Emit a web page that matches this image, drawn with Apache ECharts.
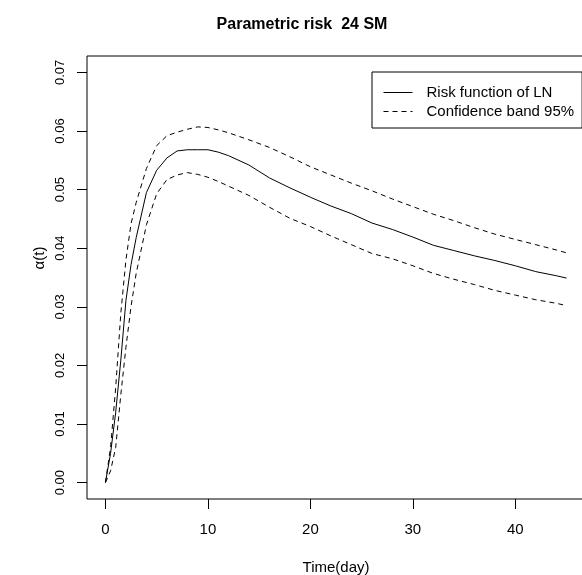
<!DOCTYPE html>
<html>
<head>
<meta charset="utf-8">
<script src="https://cdn.jsdelivr.net/npm/echarts@6/dist/echarts.min.js"></script>
<style>html,body{margin:0;padding:0;background:#fff}#c{width:582px;height:575px}</style>
</head>
<body>
<div id="c"></div>
<script>
var timeDays = [0, 0.5, 1, 1.5, 2, 2.5, 3, 4, 5, 6, 7, 8, 9, 10, 11, 12, 14, 16, 18, 20, 22, 24, 26, 28, 30, 32, 34, 36, 38, 40, 42, 44, 45];
var riskLN = [0, 0.0050, 0.0120, 0.0209, 0.0311, 0.0372, 0.0418, 0.0495, 0.0533, 0.0554, 0.0566, 0.0568, 0.0568, 0.0568, 0.0564, 0.0558, 0.0542, 0.0520, 0.0503, 0.0487, 0.0472, 0.0459, 0.0443, 0.0432, 0.0419, 0.0405, 0.0396, 0.0387, 0.0379, 0.0370, 0.0360, 0.0353, 0.0349];
var bandUpper = [0, 0.0060, 0.0162, 0.0289, 0.0380, 0.0442, 0.0478, 0.0536, 0.0575, 0.0592, 0.0598, 0.0603, 0.0607, 0.0606, 0.0602, 0.0597, 0.0585, 0.0572, 0.0556, 0.0539, 0.0525, 0.0511, 0.0498, 0.0484, 0.0471, 0.0458, 0.0447, 0.0435, 0.0424, 0.0415, 0.0406, 0.0397, 0.0392];
var bandLower = [0, 0.0020, 0.0060, 0.0150, 0.0231, 0.0301, 0.0357, 0.0440, 0.0493, 0.0517, 0.0525, 0.0529, 0.0526, 0.0521, 0.0514, 0.0506, 0.0490, 0.0470, 0.0451, 0.0437, 0.0421, 0.0406, 0.0391, 0.0382, 0.0370, 0.0357, 0.0347, 0.0338, 0.0328, 0.0320, 0.0312, 0.0306, 0.0302];
var xTicks = [0, 10, 20, 30, 40];
var yTicks = [0, 0.01, 0.02, 0.03, 0.04, 0.05, 0.06, 0.07];

function pairs(xs, ys) { return xs.map(function (x, i) { return [x, ys[i]]; }); }

var FONT = "'Liberation Sans', Arial, sans-serif";
var chart = echarts.init(document.getElementById('c'), null, { renderer: 'canvas' });
var dash = [5, 4];
chart.setOption({
  animation: false,
  backgroundColor: '#fff',
  title: {
    text: 'Parametric risk  24 SM',
    left: 297, top: 12, textAlign: 'center',
    textStyle: { fontFamily: FONT, fontSize: 16, fontWeight: 'bold', color: '#000' }
  },
  legend: {
    orient: 'vertical',
    left: 372, top: 72,
    padding: [13, 8, 9, 11],
    itemGap: 4,
    itemWidth: 29, itemHeight: 11,
    borderColor: '#000', borderWidth: 1,
    backgroundColor: '#fff',
    lineStyle: { width: 1 },
    itemStyle: { color: 'transparent', borderColor: 'transparent', borderWidth: 0 },
    textStyle: { fontFamily: FONT, fontSize: 15, color: '#000', padding: [0, 0, 0, 9] },
    data: ['Risk function of LN', 'Confidence band 95%']
  },
  grid: {
    left: 87, top: 56, width: 498, height: 443,
    outerBoundsMode: 'none', containLabel: false,
    show: true, borderColor: '#000', borderWidth: 1, backgroundColor: 'transparent'
  },
  xAxis: {
    type: 'value', min: -1.8, max: 46.8,
    name: 'Time(day)', nameLocation: 'middle', nameGap: 61,
    nameTextStyle: { fontFamily: FONT, fontSize: 15, color: '#000' },
    axisLine: { show: false, onZero: false },
    splitLine: { show: false },
    axisTick: { show: true, length: 10, customValues: xTicks, lineStyle: { color: '#000' } },
    axisLabel: { customValues: xTicks, margin: 23, fontFamily: FONT, fontSize: 15, color: '#000' }
  },
  yAxis: {
    type: 'value', min: -0.0028, max: 0.0728,
    axisLine: { show: false, onZero: false },
    splitLine: { show: false },
    axisTick: { show: true, length: 10, customValues: yTicks, lineStyle: { color: '#000' } },
    axisLabel: {
      customValues: yTicks, rotate: 90, margin: 20, fontFamily: FONT, fontSize: 13, color: '#000',
      formatter: function (v) { return v.toFixed(2); }
    }
  },
  graphic: [{
    type: 'text', x: 40, y: 258, rotation: Math.PI / 2,
    style: { text: 'α(t)', fontFamily: FONT, fontSize: 15, fill: '#000', textAlign: 'center', textVerticalAlign: 'middle' }
  }],
  series: [
    { name: 'Risk function of LN', type: 'line', data: pairs(timeDays, riskLN), symbol: 'none',
      lineStyle: { color: '#000', width: 1, type: 'solid' }, itemStyle: { color: '#000' } },
    { name: 'Confidence band 95%', type: 'line', data: pairs(timeDays, bandUpper), symbol: 'none',
      lineStyle: { color: '#000', width: 1, type: dash }, itemStyle: { color: '#000' } },
    { name: 'Confidence band 95%', type: 'line', data: pairs(timeDays, bandLower), symbol: 'none',
      lineStyle: { color: '#000', width: 1, type: dash }, itemStyle: { color: '#000' } }
  ]
});
</script>
</body>
</html>
